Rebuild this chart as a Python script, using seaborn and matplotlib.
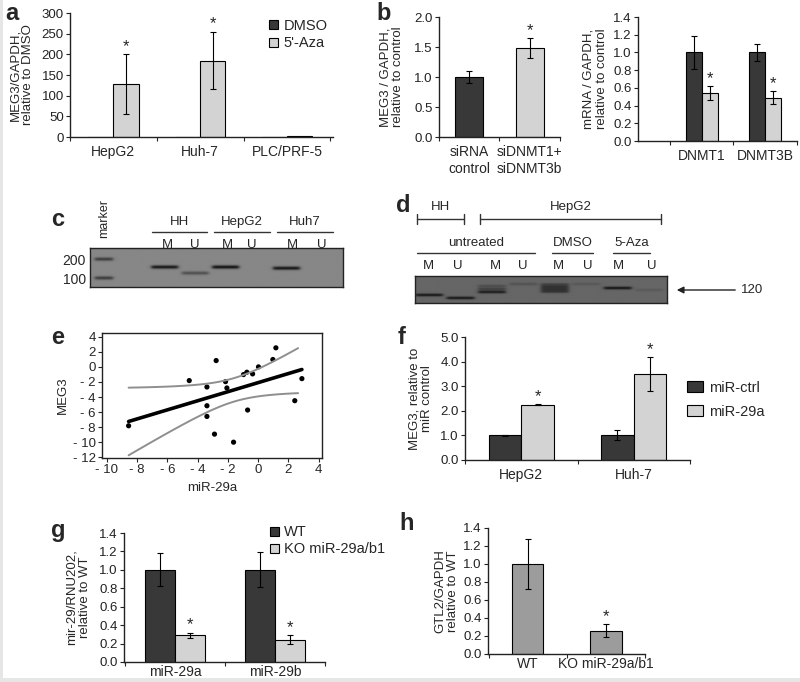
import numpy as np
import pandas as pd
import matplotlib
matplotlib.use('Agg')
import matplotlib.pyplot as plt
import seaborn as sns
from matplotlib.patches import Rectangle

# ---- data ----
# a
a_cells = ['HepG2', 'Huh-7', 'PLC/PRF-5']
a_levels = ['DMSO', "5'-Aza"]
a_dmso = [1.0, 1.0, 1.0]
a_dmso_err = [0, 0, 0]
a_aza = [128, 185, 1.5]
a_aza_err = [73, 70, 0]
a_aza_star = [True, True, False]

# b (left)
b1_labels = ['siRNA\ncontrol', 'siDNMT1+\nsiDNMT3b']
b1_vals = [1.0, 1.48]
b1_err = [0.1, 0.17]
b1_star = [False, True]

# b (right)
b2_genes = ['DNMT1', 'DNMT3B']
b2_levels = ['control', 'siDNMT']
b2_ctrl = [1.0, 1.0]
b2_ctrl_err = [0.19, 0.1]
b2_si = [0.54, 0.49]
b2_si_err = [0.08, 0.07]

# c gel: lanes and band sizes (bp) with darkness
c_lanes = ['marker', '', 'M', 'U', 'M', 'U', 'M', 'U']
c_band_bp = [[200, 100], [], [158], [126], [158], [], [152], []]
c_band_int = [[0.3, 0.3], [], [0.45], [0.22], [0.47], [], [0.45], []]

# d gel
d_lanes = ['M', 'U', 'M', 'U', 'M', 'U', 'M', 'U']
d_band_bp = [[95], [80], [110, 125, 140], [150], [112, 124, 136, 148], [150], [130], [120]]
d_band_int = [[0.32], [0.32], [0.3, 0.15, 0.1], [0.08], [0.2, 0.2, 0.2, 0.15], [0.06], [0.33], [0.05]]

# e
e_mir = [-8.57, -4.56, -2.78, -3.39, -3.39, -3.39, -2.89, -2.16, -2.07, -1.63,
         -0.97, -0.75, -0.70, -0.37, 0.02, 0.97, 1.17, 2.42, 2.89]
e_meg3 = [-7.82, -1.82, 0.84, -2.67, -5.16, -6.58, -8.93, -1.96, -2.8, -10.0,
          -1.02, -0.71, -5.73, -0.93, 0.0, 0.98, 2.53, -4.49, -1.56]

# f
f_cells = ['HepG2', 'Huh-7']
f_levels = ['miR-ctrl', 'miR-29a']
f_ctrl = [1.0, 1.0]
f_ctrl_err = [0.02, 0.2]
f_mir = [2.25, 3.5]
f_mir_err = [0.03, 0.7]

# g
g_mirs = ['miR-29a', 'miR-29b']
g_levels = ['WT', 'KO miR-29a/b1']
g_wt = [1.0, 1.0]
g_wt_err = [0.18, 0.19]
g_ko = [0.29, 0.24]
g_ko_err = [0.03, 0.05]

# h
h_groups = ['WT', 'KO miR-29a/b1']
h_vals = [1.0, 0.26]
h_err = [0.28, 0.07]
h_star = [False, True]

DARK = '#383838'
LIGHT = '#d3d3d3'
MID = '#9c9c9c'

sns.set_theme(style='white')
plt.rcParams['font.family'] = ['Liberation Sans', 'DejaVu Sans']
plt.rcParams['font.size'] = 9.5

W, H = 800, 682
fig = plt.figure(figsize=(W / 100, H / 100), dpi=100)
fig.patch.set_facecolor('#e6e6e6')
fig.patches.append(Rectangle((3 / W, 1 - 678 / H), 797 / W, 678 / H,
                             transform=fig.transFigure, facecolor='white',
                             edgecolor='none', zorder=-5))


def px_axes(l, t, r, b):
    ax = fig.add_axes([l / W, 1 - b / H, (r - l) / W, (b - t) / H])
    ax.patch.set_alpha(0)
    return ax


def bar_frame(df, cats, levels, colors, width, ax, legend=False):
    sns.barplot(df, x='cat', y='val', hue='level', order=cats, hue_order=levels,
                palette=dict(zip(levels, colors)), width=width, saturation=1,
                edgecolor='black', linewidth=0.8, errorbar=None, legend=legend,
                dodge=len(levels) > 1 and levels != cats, ax=ax)
    conts = list(ax.containers)
    for cont, lev in zip(conts, levels):
        sub = df[df.level == lev]
        for bar, (_, r) in zip(cont, sub.iterrows()):
            cx = bar.get_x() + bar.get_width() / 2
            if r.err > 0:
                ax.errorbar(cx, r.val, yerr=r.err, fmt='none', ecolor='black',
                            elinewidth=0.8, capsize=2, capthick=0.8)
            if r.star:
                ax.text(cx, r.val + r.err, '*', ha='center', va='bottom', fontsize=12)


def long_df(cats, levels, vals, errs, stars):
    rows = []
    for lev, v, e, s in zip(levels, vals, errs, stars):
        for c, vi, ei, si in zip(cats, v, e, s):
            rows.append(dict(cat=c, level=lev, val=vi, err=ei, star=si))
    return pd.DataFrame(rows)


def style_axes(ax, ylim, yticks, fmt, xlim, ylabel, label_x, xpad=6):
    ax.set_ylim(*ylim)
    ax.set_xlim(*xlim)
    ax.set_yticks(yticks)
    ax.set_yticklabels([fmt.format(t) for t in yticks])
    ax.set_xlabel('')
    ax.set_ylabel(ylabel, fontsize=9.5, linespacing=1.1)
    ax.yaxis.set_label_coords(label_x, 0.5)
    sns.despine(ax=ax)
    for s in ['left', 'bottom']:
        ax.spines[s].set_color('#222222')
        ax.spines[s].set_linewidth(1)
    ax.tick_params(axis='y', direction='out', length=3, width=0.8, pad=1.5,
                   left=True, labelsize=9.5, colors='#222222')
    ax.tick_params(axis='x', which='major', length=0, pad=xpad, labelsize=10)
    n = len(ax.get_xticks())
    ax.set_xticks(np.arange(-0.5, n, 1.0), minor=True)
    ax.tick_params(axis='x', which='minor', direction='out', length=3, width=0.8,
                   bottom=True)


# ---- a ----
ax = px_axes(70, 13, 333, 137)
df = long_df(a_cells, a_levels, [a_dmso, a_aza], [a_dmso_err, a_aza_err],
             [[False] * 3, a_aza_star])
bar_frame(df, a_cells, a_levels, [DARK, LIGHT], 0.58, ax, legend=True)
style_axes(ax, (0, 300), np.arange(0, 301, 50), '{:.0f}', (-0.5, 2.53),
           'MEG3/GAPDH,\nrelative to DMSO', -0.135)
sns.move_legend(ax, 'upper right', bbox_to_anchor=(1.03, 1.06), frameon=False,
                title=None, handlelength=0.6, handleheight=0.6, handletextpad=0.4,
                labelspacing=0.25, fontsize=10.5)

# ---- b left ----
ax = px_axes(439, 17, 560, 137)
df = long_df(b1_labels, b1_labels, [[v] for v in b1_vals], [[e] for e in b1_err],
             [[s] for s in b1_star])
df['cat'] = df['level']
bar_frame(df, b1_labels, b1_labels, [DARK, LIGHT], 0.46, ax)
style_axes(ax, (0, 2.0), np.arange(0, 2.01, 0.5), '{:.1f}', (-0.5, 1.5),
           'MEG3 / GAPDH,\nrelative to control', -0.29)

# ---- b right ----
ax = px_axes(638, 17, 797, 141)
df = long_df(b2_genes, b2_levels, [b2_ctrl, b2_si], [b2_ctrl_err, b2_si_err],
             [[False, False], [True, True]])
bar_frame(df, b2_genes, b2_levels, [DARK, LIGHT], 0.5, ax)
style_axes(ax, (0, 1.4), np.arange(0, 1.41, 0.2), '{:.1f}', (-1.0, 1.5),
           'mRNA / GAPDH,\nrelative to control', -0.19)
ax.set_xticks([-0.5, 0.5, 1.5], minor=True)


# ---- gels ----
def draw_gel(ax, lanes, band_pos, band_int, xlim, ylim, bg, sigma):
    xs = np.linspace(xlim[0], xlim[1], 500)
    ys = np.linspace(ylim[0], ylim[1], 160)
    X, Y = np.meshgrid(xs, ys)
    img = np.full(X.shape, bg)
    for slot, (name, pos, inten) in enumerate(zip(lanes, band_pos, band_int)):
        half = 0.3 if name == 'marker' else 0.44
        lane = 1 / (1 + np.exp(-(X - (slot - half)) * 30)) / (1 + np.exp((X - (slot + half)) * 30))
        for p, i in zip(pos, inten):
            img -= i * lane * np.exp(-((Y - p) / sigma) ** 2)
    ax.imshow(np.clip(img, 0, 1), cmap='gray', vmin=0, vmax=1, origin='lower',
              extent=[xlim[0], xlim[1], ylim[0], ylim[1]], aspect='auto',
              interpolation='bilinear')
    ax.set_xticks([])
    for s in ax.spines.values():
        s.set_visible(True)
        s.set_color('#222222')
        s.set_linewidth(1)


ax = px_axes(90, 248, 343, 287)
draw_gel(ax, c_lanes, c_band_bp, c_band_int, (-0.45, 7.85), (53, 258), 0.53, 9)
ax.set_yticks([100, 200])
ax.set_yticklabels(['100', '200'])
ax.tick_params(axis='y', length=0, pad=3, labelsize=10)

ax = px_axes(415, 276, 667, 303)
draw_gel(ax, d_lanes, d_band_bp, d_band_int, (-0.44, 7.56), (55, 190), 0.4, 7)
ax.set_yticks([])

# ---- e ----
ax = px_axes(102, 333, 322, 458)
sns.scatterplot(x=e_mir, y=e_meg3, color='black', s=14, edgecolor='none', ax=ax)
sns.regplot(x=e_mir, y=e_meg3, scatter=False, ci=None, color='black',
            line_kws=dict(lw=2.6), ax=ax)
x = np.array(e_mir)
y = np.array(e_meg3)
slope, icpt = np.polyfit(x, y, 1)
res = y - (slope * x + icpt)
se = np.sqrt((res ** 2).sum() / (len(x) - 2))
xs = np.linspace(x.min(), x.max() - 0.25, 100)
band = 2.11 * se * np.sqrt(1 / len(x) + (xs - x.mean()) ** 2 / ((x - x.mean()) ** 2).sum())
fit = slope * xs + icpt
sns.lineplot(x=xs, y=fit + band, color='#8f8f8f', lw=1.4, ax=ax)
sns.lineplot(x=xs, y=fit - band, color='#8f8f8f', lw=1.4, ax=ax)
ax.set_xlim(-10.33, 4.22)
ax.set_ylim(-12.1, 4.5)
xt = np.arange(-10, 5, 2)
yt = np.arange(-12, 5, 2)
ax.set_xticks(xt)
ax.set_xticklabels([f'- {abs(t)}' if t < 0 else f'{t}' for t in xt])
ax.set_yticks(yt)
ax.set_yticklabels([f'- {abs(t)}' if t < 0 else f'{t}' for t in yt])
for s in ax.spines.values():
    s.set_visible(True)
    s.set_color('#222222')
    s.set_linewidth(1)
ax.tick_params(direction='out', length=3, width=0.8, pad=1.5, left=True, bottom=True,
               labelsize=9.5)
ax.set_xlabel('miR-29a', fontsize=9.5, labelpad=4)
ax.set_ylabel('MEG3', fontsize=9.5, labelpad=3)

# ---- f ----
ax = px_axes(465, 337, 690, 460)
df = long_df(f_cells, f_levels, [f_ctrl, f_mir], [f_ctrl_err, f_mir_err],
             [[False, False], [True, True]])
bar_frame(df, f_cells, f_levels, [DARK, LIGHT], 0.58, ax, legend=True)
style_axes(ax, (0, 5.0), np.arange(0, 5.01, 1.0), '{:.1f}', (-0.5, 1.5),
           'MEG3, relative to\nmiR control', -0.142)
sns.move_legend(ax, 'center left', bbox_to_anchor=(0.93, 0.49), frameon=False,
                title=None, handlelength=1.1, handleheight=0.8, handletextpad=0.4,
                labelspacing=0.7, fontsize=10.5)

# ---- g ----
ax = px_axes(124, 533, 325, 662)
df = long_df(g_mirs, g_levels, [g_wt, g_ko], [g_wt_err, g_ko_err],
             [[False, False], [True, True]])
bar_frame(df, g_mirs, g_levels, [DARK, LIGHT], 0.6, ax, legend=True)
style_axes(ax, (0, 1.4), np.arange(0, 1.41, 0.2), '{:.1f}', (-0.51, 1.5),
           'mir-29/RNU202,\nrelative to WT', -0.165, xpad=2)
sns.move_legend(ax, 'upper left', bbox_to_anchor=(0.66, 1.16), frameon=False,
                title=None, handlelength=0.6, handleheight=0.6, handletextpad=0.4,
                labelspacing=0.2, fontsize=10.5)

# ---- h ----
ax = px_axes(488, 528, 645, 654)
df = long_df(h_groups, h_groups, [[v] for v in h_vals], [[e] for e in h_err],
             [[s] for s in h_star])
df['cat'] = df['level']
bar_frame(df, h_groups, h_groups, [MID, MID], 0.4, ax)
style_axes(ax, (0, 1.4), np.arange(0, 1.41, 0.2), '{:.1f}', (-0.51, 1.5),
           'GTL2/GAPDH\nrelative to WT', -0.186, xpad=2)

# ---- overlay: panel letters and gel annotations ----
ov = fig.add_axes([0, 0, 1, 1])
ov.set_xlim(0, W)
ov.set_ylim(H, 0)
ov.axis('off')
ov.patch.set_alpha(0)
for letter, lx, ly in [('a', 12, 14), ('b', 384, 14), ('c', 58, 220), ('d', 403, 206),
                       ('e', 58, 338), ('f', 402, 338), ('g', 58, 530), ('h', 407, 523)]:
    ov.text(lx, ly, letter, fontsize=17, fontweight='bold', ha='center', va='center')

ov.text(104, 219, 'marker', rotation=90, ha='center', va='center', fontsize=9)
for name, x0, x1 in [('HH', 152, 207), ('HepG2', 214, 270), ('Huh7', 277, 333)]:
    ov.plot([x0, x1], [232, 232], color='#333333', lw=1)
    ov.text((x0 + x1) / 2, 222, name, ha='center', va='center', fontsize=9.5)
for lab, lx in zip(c_lanes[2:], [167, 195, 227, 252, 292, 322]):
    ov.text(lx, 245, lab, ha='center', va='center', fontsize=9.5)

for name, x0, x1 in [('HH', 417, 464), ('HepG2', 480, 661)]:
    ov.plot([x0, x1], [219, 219], color='#333333', lw=1)
    ov.plot([x0, x0], [214, 224], color='#333333', lw=1)
    ov.plot([x1, x1], [214, 224], color='#333333', lw=1)
    ov.text((x0 + x1) / 2, 207, name, ha='center', va='center', fontsize=9.5)
for name, x0, x1 in [('untreated', 417, 535), ('DMSO', 552, 593), ('5-Aza', 613, 650)]:
    ov.plot([x0, x1], [253, 253], color='#333333', lw=1)
    ov.text((x0 + x1) / 2, 243, name, ha='center', va='center', fontsize=9.5)
for lab, lx in zip(d_lanes, [428, 458, 495, 523, 558, 588, 618, 652]):
    ov.text(lx, 266, lab, ha='center', va='center', fontsize=9.5)
ov.annotate('', xy=(674, 290), xytext=(738, 290),
            arrowprops=dict(arrowstyle='-|>', color='#222222', lw=1, mutation_scale=10))
ov.text(741, 290, '120', ha='left', va='center', fontsize=9.5)

fig.savefig('out.png', dpi=100, facecolor=fig.get_facecolor())
